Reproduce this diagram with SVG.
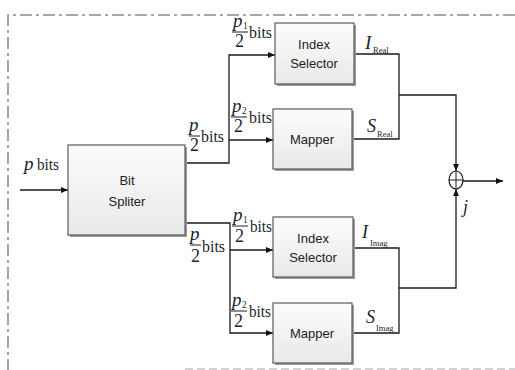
<svg xmlns="http://www.w3.org/2000/svg" width="515" height="370" viewBox="0 0 515 370">
<defs>
<linearGradient id="boxg" x1="0" y1="0" x2="0" y2="1">
<stop offset="0" stop-color="#fcfcfc"/>
<stop offset="1" stop-color="#e9e9e9"/>
</linearGradient>
<marker id="ah" viewBox="0 0 8 8" refX="8" refY="4" markerWidth="7" markerHeight="7" markerUnits="userSpaceOnUse" orient="auto">
<path d="M0,0.6 L8,4 L0,7.4 z" fill="#111"/>
</marker>
</defs>
<style>
.box{fill:url(#boxg);stroke:#5a5a5a;stroke-width:1.2}
.shadow{fill:#9a9a9a}
.bt{font-family:"Liberation Sans","Open Sans",sans-serif;font-size:13px;fill:#222;text-anchor:middle}
.ln{fill:none;stroke:#1a1a1a;stroke-width:1.3}
.m{font-family:"Liberation Serif","DejaVu Serif",serif;fill:#1c1f2b}
.mi{font-family:"Liberation Serif","DejaVu Serif",serif;font-style:italic;fill:#1c1f2b}
.bar{stroke:#1c1f2b;stroke-width:1}
.border{fill:none;stroke:#8c8c8c;stroke-width:1.6;stroke-dasharray:12 4 3 4}
.border2{fill:none;stroke:#c4c4c4;stroke-width:1.6;stroke-dasharray:8 4}
</style>
<rect width="515" height="370" fill="#fff"/>
<g id="border">
<path class="border" d="M515,15 H8 V370"/>
<path class="border2" d="M185,369 H515"/>
</g>
<g id="connectors">
<path class="ln" d="M20,190 H68" marker-end="url(#ah)"/>
<path class="ln" d="M185,163 H229 V55 H275" marker-end="url(#ah)"/>
<path class="ln" d="M229,140 H273" marker-end="url(#ah)"/>
<path class="ln" d="M185,223 H230 V333 H273" marker-end="url(#ah)"/>
<path class="ln" d="M230,250 H273" marker-end="url(#ah)"/>
<path class="ln" d="M354,54 H399 V139 H352"/>
<path class="ln" d="M399,95 H456 V171" marker-end="url(#ah)"/>
<path class="ln" d="M353,248 H399 V333 H352"/>
<path class="ln" d="M399,288 H456 V189" marker-end="url(#ah)"/>
<path class="ln" d="M463,181 H503" marker-end="url(#ah)"/>
</g>
<g id="bit-spliter">
<rect class="shadow" x="70" y="147" width="117" height="90"/>
<rect class="box" x="68" y="145" width="117" height="90"/>
<text class="bt" x="127" y="185">Bit</text>
<text class="bt" x="127" y="206">Spliter</text>
</g>
<g id="index-selector-real">
<rect class="shadow" x="277" y="25" width="79" height="61"/>
<rect class="box" x="275" y="23" width="79" height="61"/>
<text class="bt" x="314" y="49">Index</text>
<text class="bt" x="314" y="68">Selector</text>
</g>
<g id="mapper-real">
<rect class="shadow" x="275" y="111" width="79" height="60"/>
<rect class="box" x="273" y="109" width="79" height="60"/>
<text class="bt" x="312" y="144">Mapper</text>
</g>
<g id="index-selector-imag">
<rect class="shadow" x="275" y="219" width="80" height="60"/>
<rect class="box" x="273" y="217" width="80" height="60"/>
<text class="bt" x="313" y="243">Index</text>
<text class="bt" x="313" y="262">Selector</text>
</g>
<g id="mapper-imag">
<rect class="shadow" x="275" y="305" width="79" height="60"/>
<rect class="box" x="273" y="303" width="79" height="60"/>
<text class="bt" x="312" y="338">Mapper</text>
</g>
<g id="combiner">
<ellipse cx="456" cy="180" rx="7" ry="9" fill="#fff" stroke="#1a1a1a" stroke-width="1.2"/>
<path d="M449,180 H463 M456,171 V189" stroke="#1a1a1a" stroke-width="1"/>
</g>
<g id="labels">
<text class="mi" x="24" y="170" font-size="19">p</text>
<text class="m" x="37" y="170" font-size="17" textLength="22" lengthAdjust="spacingAndGlyphs">bits</text>
<!-- top p1/2 bits -->
<text class="mi" x="233" y="27" font-size="19">p</text>
<text class="m" x="243" y="29" font-size="9.5">1</text>
<line class="bar" x1="232" y1="32" x2="248" y2="32"/>
<text class="m" x="235" y="47" font-size="18" textLength="9" lengthAdjust="spacingAndGlyphs">2</text>
<text class="m" x="249" y="38" font-size="17" textLength="23" lengthAdjust="spacingAndGlyphs">bits</text>
<!-- upper p2/2 bits -->
<text class="mi" x="232" y="112" font-size="19">p</text>
<text class="m" x="242" y="114" font-size="9.5">2</text>
<line class="bar" x1="231" y1="117" x2="247" y2="117"/>
<text class="m" x="234" y="132" font-size="18" textLength="9" lengthAdjust="spacingAndGlyphs">2</text>
<text class="m" x="249" y="123" font-size="17" textLength="23" lengthAdjust="spacingAndGlyphs">bits</text>
<!-- upper p/2 bits -->
<text class="mi" x="189" y="131" font-size="19">p</text>
<line class="bar" x1="189" y1="136" x2="200" y2="136"/>
<text class="m" x="190" y="151" font-size="18" textLength="9" lengthAdjust="spacingAndGlyphs">2</text>
<text class="m" x="201" y="142" font-size="17" textLength="23" lengthAdjust="spacingAndGlyphs">bits</text>
<!-- lower p/2 bits -->
<text class="mi" x="190" y="240" font-size="19">p</text>
<line class="bar" x1="190" y1="245" x2="201" y2="245"/>
<text class="m" x="191" y="262" font-size="18" textLength="9" lengthAdjust="spacingAndGlyphs">2</text>
<text class="m" x="202" y="252" font-size="17" textLength="23" lengthAdjust="spacingAndGlyphs">bits</text>
<!-- lower p1/2 bits -->
<text class="mi" x="233" y="221" font-size="19">p</text>
<text class="m" x="243" y="223" font-size="9.5">1</text>
<line class="bar" x1="232" y1="226" x2="248" y2="226"/>
<text class="m" x="235" y="242" font-size="18" textLength="9" lengthAdjust="spacingAndGlyphs">2</text>
<text class="m" x="250" y="232" font-size="17" textLength="22" lengthAdjust="spacingAndGlyphs">bits</text>
<!-- lower p2/2 bits -->
<text class="mi" x="232" y="306" font-size="19">p</text>
<text class="m" x="242" y="308" font-size="9.5">2</text>
<line class="bar" x1="231" y1="311" x2="247" y2="311"/>
<text class="m" x="234" y="327" font-size="18" textLength="9" lengthAdjust="spacingAndGlyphs">2</text>
<text class="m" x="249" y="317" font-size="17" textLength="22" lengthAdjust="spacingAndGlyphs">bits</text>
<!-- outputs -->
<text class="mi" x="365" y="49" font-size="19">I</text>
<text class="m" x="373" y="53" font-size="8.5">Real</text>
<text class="mi" x="367" y="132" font-size="18">S</text>
<text class="m" x="377" y="137" font-size="8.5">Real</text>
<text class="mi" x="362" y="238" font-size="18">I</text>
<text class="m" x="370" y="246" font-size="8.5">Imag</text>
<text class="mi" x="366" y="323" font-size="18">S</text>
<text class="m" x="376" y="331" font-size="8.5">Imag</text>
<text class="mi" x="463" y="213" font-size="18">j</text>
</g>
</svg>
